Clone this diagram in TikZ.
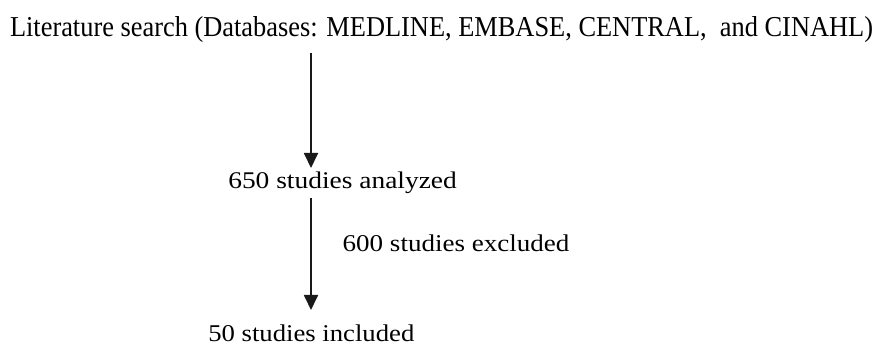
\documentclass[tikz,border=0pt]{standalone}
\usepackage{fontspec}
\setmainfont{Liberation Serif}
\usetikzlibrary{arrows.meta}
\newcommand{\fitbox}[3]{\resizebox{#1pt}{#2pt}{#3}}
\begin{document}
\begin{tikzpicture}[x=1pt,y=-1pt,
  lbl/.style={inner sep=0pt, outer sep=0pt, anchor=base west, text=black},
  arr/.style={line width=1.8pt, draw=black!90, -{Triangle[length=15pt,width=14pt]}}]
\useasboundingbox (0,0) rectangle (880,344);
\node[lbl] (title) at (10,37) {\fitbox{863}{20}{Literature search (Databases: MEDLINE, EMBASE, CENTRAL,\hspace{0.25em} and CINAHL)}};
\node[lbl] (n650) at (228.3,188.3) {\fitbox{228.5}{16.6}{650 studies analyzed}};
\node[lbl] (n600) at (342.7,251.7) {\fitbox{226.6}{16.7}{600 studies excluded}};
\node[lbl] (n50) at (208.3,341.7) {\fitbox{206}{16.7}{50 studies included}};
\coordinate (ax) at (311,0);
\draw[arr] ([yshift=-10pt]title.south -| ax) -- ([yshift=3.7pt]n650.north -| ax);
\draw[arr] ([yshift=-5pt]n650.south -| ax) -- ([yshift=15pt]n50.north -| ax);
\end{tikzpicture}
\end{document}
